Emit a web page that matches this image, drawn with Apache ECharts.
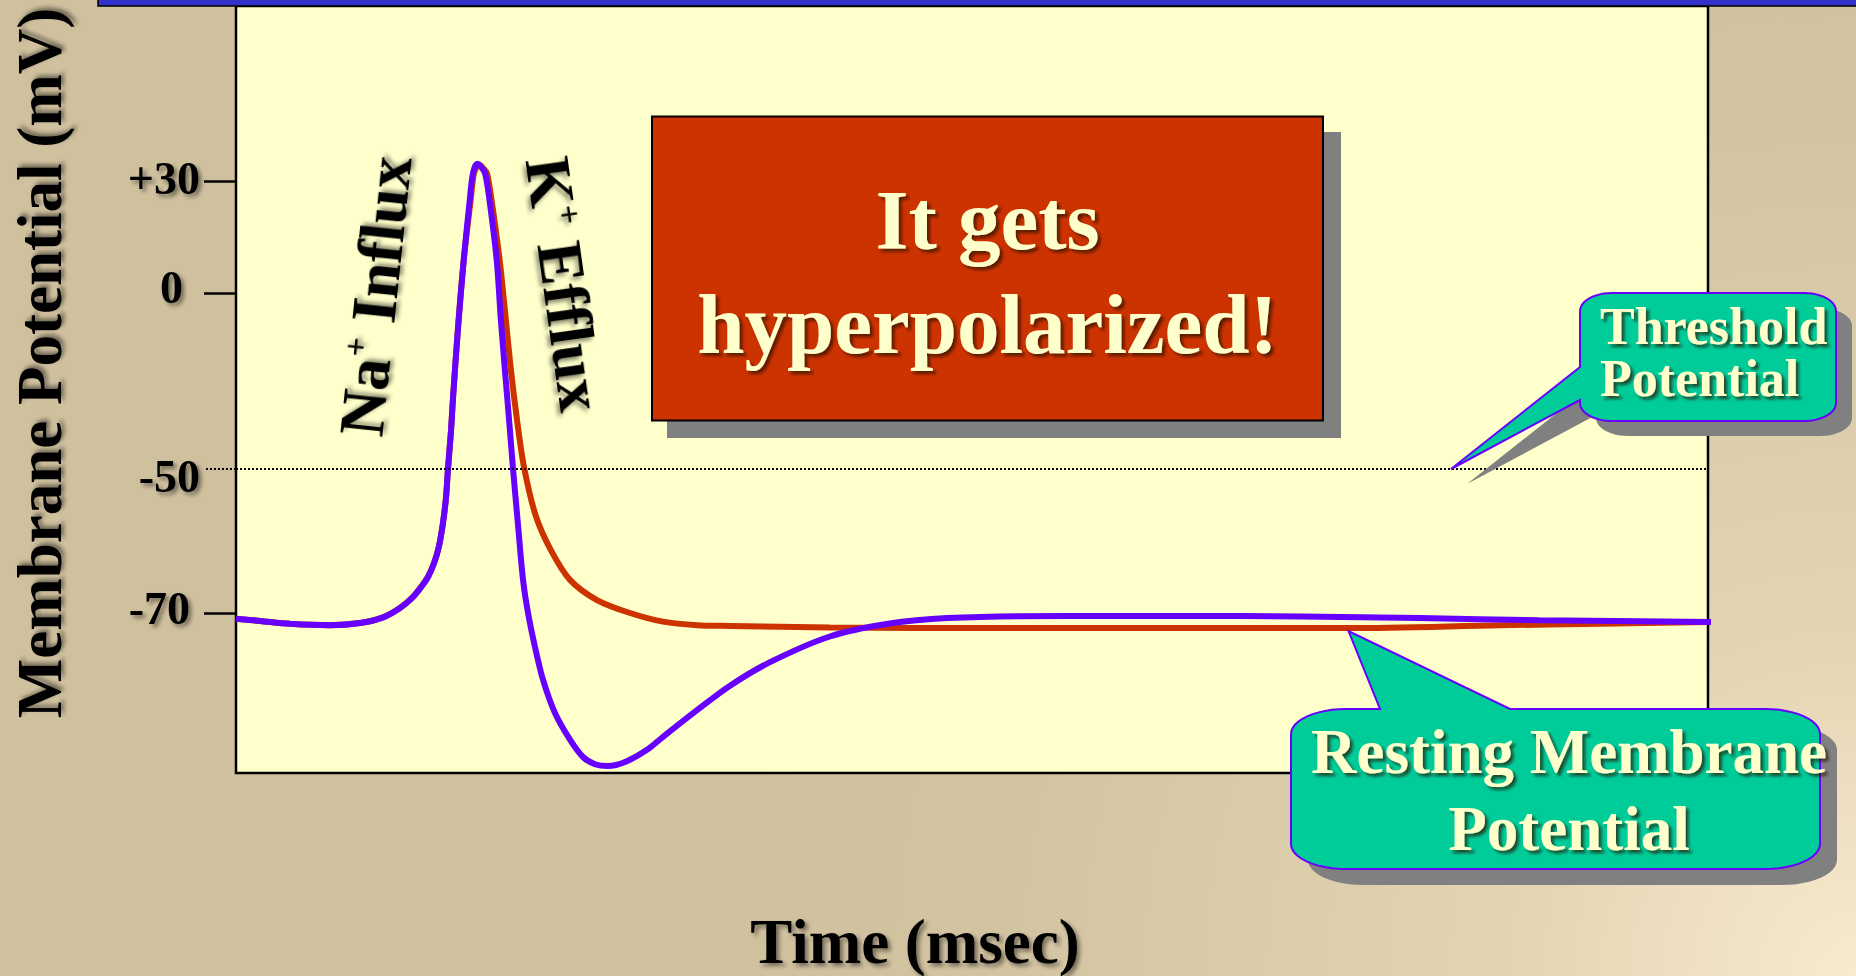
<!DOCTYPE html>
<html>
<head>
<meta charset="utf-8">
<script src="https://cdn.jsdelivr.net/npm/echarts@6/dist/echarts.min.js"></script>
<style>
html,body{margin:0;padding:0;background:#cfc09e;}
#chart{width:1856px;height:976px;}
</style>
</head>
<body>
<div id="chart"></div>
<script>
// ---------------- data ----------------
const yTickValues = [30, 0, -50, -70];
const yTickLabels = ['+30', '0', '-50', '-70'];
const thresholdMv = -50;
const xAxisTitle = 'Time (msec)';
const yAxisTitle = 'Membrane Potential (mV)';

// purple trace: action potential with after-hyperpolarization
const blueTime = [0, 0.163, 0.367, 0.639, 0.842, 0.999, 1.114, 1.196, 1.257, 1.304,
  1.345, 1.379, 1.406, 1.427, 1.440, 1.461, 1.474, 1.508, 1.547, 1.588,
  1.610, 1.639, 1.664, 1.692, 1.722, 1.771, 1.800, 1.827, 1.855, 1.882,
  1.916, 1.950, 1.984, 2.031, 2.086, 2.167, 2.269, 2.357, 2.439, 2.527,
  2.643, 2.792, 2.901, 3.132, 3.356, 3.621, 4.029, 4.429, 4.830, 5.632,
  6.440, 7.242, 8.043, 8.852, 10.04];
const blueMv = [-70.8, -71.1, -71.5, -71.7, -71.4, -70.6, -69.3, -67.9, -66.4, -65.0,
  -63.1, -60.7, -57.5, -53.9, -50.0, -38.9, -30.0, -10.0, 8.8, 24.9,
  32.1, 34.6, 33.8, 32.1, 24.9, 8.8, -8.0, -22.0, -36.0, -50.0,
  -57.8, -65.4, -70.0, -74.7, -79.3, -83.9, -87.6, -90.0, -91.0, -91.25,
  -90.7, -89.0, -87.2, -83.5, -80.1, -76.9, -73.3, -71.5, -70.7, -70.4,
  -70.4, -70.5, -70.7, -71.0, -71.25];

// red trace: repolarization straight back to rest
const redTime = [0, 0.163, 0.367, 0.639, 0.842, 0.999, 1.114, 1.196, 1.257, 1.304,
  1.345, 1.379, 1.406, 1.427, 1.440, 1.461, 1.474, 1.508, 1.547, 1.594,
  1.617, 1.651, 1.678, 1.705, 1.736, 1.791, 1.827, 1.868, 1.912, 1.959,
  2.038, 2.140, 2.269, 2.452, 2.677, 2.901, 3.132, 3.356, 4.035, 5.190,
  6.549, 7.568, 8.587, 9.266, 10.0];
const redMv = [-70.8, -71.1, -71.5, -71.7, -71.4, -70.6, -69.3, -67.9, -66.4, -65.0,
  -63.1, -60.7, -57.5, -53.9, -50.0, -38.9, -30.0, -10.0, 8.8, 24.9,
  32.1, 34.4, 33.5, 32.1, 24.9, 8.8, -5.0, -22.0, -37.0, -50.0,
  -56.6, -61.3, -65.4, -68.2, -70.0, -71.2, -71.7, -71.8, -72.0, -72.1,
  -72.1, -72.1, -71.7, -71.5, -71.25];

// ---------------- schematic (piecewise-linear) potential scale of the slide ----------------
// The slide's mV axis is not linear: the -50..-70 band is stretched.
// Axis units run 0 (plot bottom) .. AXIS_MAX (plot top).
const AXIS_MAX = 767;
const SCALE_U_AT_0 = 480, SCALE_U_AT_M50 = 304;
const SLOPE_POS = 112 / 30, SLOPE_MID = 176 / 50, SLOPE_LOW = 144 / 20;
function toAxis(mv) {
  if (mv >= 0) return SCALE_U_AT_0 + mv * SLOPE_POS;
  if (mv >= -50) return SCALE_U_AT_0 + mv * SLOPE_MID;
  return SCALE_U_AT_M50 + (mv + 50) * SLOPE_LOW;
}

const blueData = blueTime.map((t, i) => [t, toAxis(blueMv[i])]);
const redData = redTime.map((t, i) => [t, toAxis(redMv[i])]);
const labelPositions = yTickValues.map(toAxis);
const solidTickPositions = yTickValues.filter(v => v !== thresholdMv).map(toAxis);

// ---------------- styles ----------------
const SERIF = '"Liberation Serif", "Times New Roman", serif';
const CREAM = '#ffffcc';
const blackShadow = { textShadowColor: 'rgba(0,0,0,0.45)', textShadowBlur: 4, textShadowOffsetX: 3, textShadowOffsetY: 3 };
const creamShadow = { textShadowColor: 'rgba(40,20,0,0.7)', textShadowBlur: 3, textShadowOffsetX: 3, textShadowOffsetY: 3 };

function labelRich(pad) {
  return Object.assign({ fontFamily: SERIF, fontWeight: 'bold', fontSize: 46, color: '#000', padding: pad }, blackShadow);
}

// rounded-box callout outline (elliptical corners) with a pointer wedge
function cornerPts(cx, cy, rx, ry, a0, a1) {
  const pts = [];
  const n = 12;
  for (let k = 0; k <= n; k++) {
    const a = (a0 + (a1 - a0) * k / n) * Math.PI / 180;
    pts.push([cx + rx * Math.cos(a), cy + ry * Math.sin(a)]);
  }
  return pts;
}
function calloutPoints(x0, y0, x1, y1, rx, ry, topWedge, leftWedge) {
  let pts = [];
  pts.push([x0 + rx, y0]);
  if (topWedge) pts = pts.concat(topWedge);
  pts = pts.concat(cornerPts(x1 - rx, y0 + ry, rx, ry, -90, 0));
  pts = pts.concat(cornerPts(x1 - rx, y1 - ry, rx, ry, 0, 90));
  pts = pts.concat(cornerPts(x0 + rx, y1 - ry, rx, ry, 90, 180));
  if (leftWedge) pts = pts.concat(leftWedge);
  pts = pts.concat(cornerPts(x0 + rx, y0 + ry, rx, ry, 180, 270));
  return pts;
}
const thresholdCallout = calloutPoints(1580, 293, 1836, 421, 32, 18, null, [[1580, 400], [1451, 469], [1580, 367]]);
const restingCallout = calloutPoints(1291, 709, 1820, 869, 55, 25, [[1380, 709], [1348.5, 631], [1510, 709]], null);

const chart = echarts.init(document.getElementById('chart'), null, { renderer: 'svg', width: 1856, height: 976 });

const bgGradient = new echarts.graphic.RadialGradient(1856, 976, 1150, [
  { offset: 0, color: '#f8ebce' },
  { offset: 0.3, color: '#e3d4b3' },
  { offset: 0.75, color: '#d2c3a1' },
  { offset: 1, color: '#cfc09e' }
], true);

const option = {
  animation: false,
  grid: {
    left: 236, right: 148, top: 6, bottom: 203,
    show: true, backgroundColor: '#ffffcc', borderColor: '#000', borderWidth: 2.5
  },
  xAxis: {
    type: 'value', min: 0, max: 10,
    axisLine: { show: false }, axisTick: { show: false },
    axisLabel: { show: false }, splitLine: { show: false }
  },
  yAxis: [
    {
      type: 'value', min: 0, max: AXIS_MAX, position: 'left',
      axisLine: { show: false }, splitLine: { show: false },
      axisTick: { show: true, length: 32, customValues: solidTickPositions, lineStyle: { color: '#000', width: 2.5 } },
      axisLabel: {
        show: true, customValues: labelPositions, margin: 36,
        fontFamily: SERIF, fontWeight: 'bold', fontSize: 46, color: '#000',
        formatter: function (v) {
          let best = 0;
          labelPositions.forEach((p, i) => { if (Math.abs(p - v) < Math.abs(labelPositions[best] - v)) best = i; });
          return '{t' + best + '|' + yTickLabels[best] + '}';
        },
        rich: {
          t0: labelRich([0, 0, 6, 0]),
          t1: labelRich([0, 17, 12, 0]),
          t2: labelRich([15, 0, 0, 0]),
          t3: labelRich([0, 10, 9, 0])
        }
      }
    },
    {
      type: 'value', min: 0, max: AXIS_MAX, position: 'left',
      axisLine: { show: false }, splitLine: { show: false }, axisLabel: { show: false },
      axisTick: { show: true, length: 32, customValues: [toAxis(thresholdMv)], lineStyle: { color: '#000', width: 2, type: [2, 2] } }
    }
  ],
  series: [
    {
      name: 'Repolarization', type: 'line', data: redData, symbol: 'none', smooth: 0.3,
      lineStyle: { color: '#cc3300', width: 6 }, z: 3,
      markLine: {
        silent: true, symbol: 'none', label: { show: false },
        lineStyle: { color: '#000', width: 2, type: [2, 2] },
        data: [{ yAxis: toAxis(thresholdMv) }]
      }
    },
    {
      name: 'Hyperpolarization', type: 'line', data: blueData, symbol: 'none', smooth: 0.3,
      lineStyle: { color: '#6600ff', width: 6 }, z: 4, clip: false
    }
  ],
  graphic: [
    { type: 'rect', silent: true, z: -10, shape: { x: 0, y: 0, width: 1856, height: 976 }, style: { fill: bgGradient } },
    { type: 'rect', silent: true, z: 50, shape: { x: 98, y: -2, width: 1760, height: 8 }, style: { fill: '#3333cc', stroke: '#000', lineWidth: 1.5 } },
    // axis titles
    { type: 'text', silent: true, z: 50, x: 40, y: 363, rotation: Math.PI / 2,
      style: Object.assign({ text: yAxisTitle, fontFamily: SERIF, fontWeight: 'bold', fontSize: 63, fill: '#000', align: 'center', verticalAlign: 'middle' }, blackShadow) },
    { type: 'text', silent: true, z: 50, x: 915, y: 942,
      style: Object.assign({ text: xAxisTitle, fontFamily: SERIF, fontWeight: 'bold', fontSize: 63, fill: '#000', align: 'center', verticalAlign: 'middle' }, blackShadow) },
    // ion flux annotations
    { type: 'text', silent: true, z: 50, x: 375, y: 296, rotation: 84 * Math.PI / 180,
      style: { text: '{n|Na}{s|+}{n| Influx}', align: 'center', verticalAlign: 'middle',
        rich: { n: Object.assign({ fontFamily: SERIF, fontWeight: 'bold', fontSize: 64, color: '#000' }, blackShadow),
                s: Object.assign({ fontFamily: SERIF, fontWeight: 'bold', fontSize: 34, color: '#000', verticalAlign: 'top' }, blackShadow) } } },
    { type: 'text', silent: true, z: 50, x: 565, y: 284, rotation: -82 * Math.PI / 180,
      style: { text: '{n|K}{s|+}{n| Efflux}', align: 'center', verticalAlign: 'middle',
        rich: { n: Object.assign({ fontFamily: SERIF, fontWeight: 'bold', fontSize: 64, color: '#000' }, blackShadow),
                s: Object.assign({ fontFamily: SERIF, fontWeight: 'bold', fontSize: 34, color: '#000', verticalAlign: 'top' }, blackShadow) } } },
    // red message box
    { type: 'rect', silent: true, z: 60, shape: { x: 667, y: 132, width: 674, height: 306 }, style: { fill: '#808080' } },
    { type: 'rect', silent: true, z: 61, shape: { x: 652, y: 116.5, width: 671, height: 304 }, style: { fill: '#cc3300', stroke: '#000', lineWidth: 2 } },
    { type: 'text', silent: true, z: 62, x: 987.5, y: 271.6,
      style: Object.assign({ text: 'It gets\nhyperpolarized!', fontFamily: SERIF, fontWeight: 'bold', fontSize: 85, lineHeight: 104, fill: CREAM, align: 'center', verticalAlign: 'middle' }, creamShadow) },
    // threshold callout
    { type: 'polygon', silent: true, z: 60, x: 16, y: 15, shape: { points: thresholdCallout }, style: { fill: '#808080' } },
    { type: 'polygon', silent: true, z: 61, shape: { points: thresholdCallout }, style: { fill: '#00cc99', stroke: '#6600ff', lineWidth: 2 } },
    { type: 'text', silent: true, z: 62, x: 1600, y: 352.6,
      style: Object.assign({ text: 'Threshold\nPotential', fontFamily: SERIF, fontWeight: 'bold', fontSize: 52, lineHeight: 52, fill: CREAM, align: 'left', verticalAlign: 'middle' }, creamShadow) },
    // resting potential callout
    { type: 'polygon', silent: true, z: 60, x: 17, y: 16, shape: { points: restingCallout }, style: { fill: '#808080' } },
    { type: 'polygon', silent: true, z: 61, shape: { points: restingCallout }, style: { fill: '#00cc99', stroke: '#6600ff', lineWidth: 2 } },
    { type: 'text', silent: true, z: 62, x: 1569, y: 790.2,
      style: Object.assign({ text: 'Resting Membrane\nPotential', fontFamily: SERIF, fontWeight: 'bold', fontSize: 63, lineHeight: 77, fill: CREAM, align: 'center', verticalAlign: 'middle' }, creamShadow) }
  ]
};
chart.setOption(option);
</script>
</body>
</html>
